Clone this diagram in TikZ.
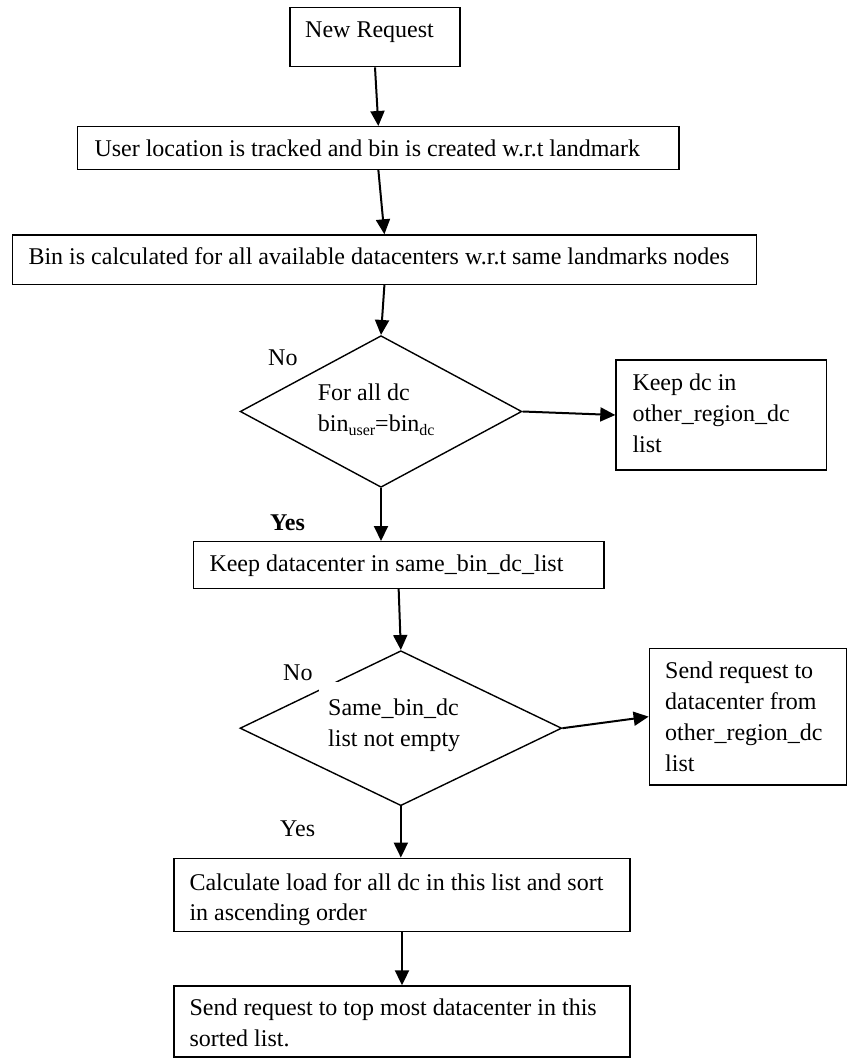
\documentclass[tikz,border=0pt]{standalone}
\usepackage{fontspec}
\setmainfont{Liberation Serif}
\usetikzlibrary{arrows.meta,shapes.geometric}
\newcommand\mysub[1]{\raisebox{-4pt}{\fontsize{16}{16}\selectfont #1}}
\begin{document}
\begin{tikzpicture}[x=1pt,y=-1pt,
  box/.style={draw, line width=1.4pt, inner sep=0pt, rectangle},
  dia/.style={draw, diamond, line width=1.4pt, inner sep=0pt},
  txt/.style={inner sep=0pt, anchor=base west, align=flush left, font={\fontsize{24}{31}\selectfont}},
  arr/.style={line width=2pt, -{Triangle[length=15pt,width=14pt]}},
]
\useasboundingbox (0,0) rectangle (848,1059);

\node[box, minimum width=170pt, minimum height=59.4pt] (nr) at (375,37) {};
\node[txt] (nrt) at (305,38) {New Request};

\node[box, minimum width=601.3pt, minimum height=42.6pt] (b2) at (378.35,148) {};
\node[txt] (b2t) at (94.3,156.7) {User location is tracked and bin is created w.r.t landmark};

\node[box, minimum width=744.2pt, minimum height=49.3pt] (b3) at (384.4,259.65) {};
\node[txt] (b3t) at (28.3,265) {Bin is calculated for all available datacenters w.r.t same landmarks nodes};

\node[dia, minimum width=281.7pt, minimum height=151.7pt] (d1) at (381,411.5) {};
\node[txt, text width=180pt] (d1t) at (317.7,400) {For all dc\\bin\mysub{user}=bin\mysub{dc}};
\node[txt] (no1) at (268,365) {No};

\node[box, minimum width=210.7pt, minimum height=110pt] (kdc) at (721.35,415) {};
\node[txt, text width=200pt] (kdct) at (632.3,390) {Keep dc in\\other\_region\_dc\\list};

\node[txt, font={\fontsize{24}{31}\selectfont\bfseries}] (yes1) at (270,530) {Yes};

\node[box, minimum width=410.7pt, minimum height=46.6pt] (kdl) at (398.65,565) {};
\node[txt] (kdlt) at (209.3,571.7) {Keep datacenter in same\_bin\_dc\_list};

\node[dia, minimum width=321.7pt, minimum height=155pt] (d2) at (400.85,728.2) {};
\fill[white] (318.5,681.8) rectangle (345,695);
\node[txt, text width=200pt] (d2t) at (328,715) {Same\_bin\_dc\\list not empty};
\node[txt] (no2) at (283,680) {No};
\node[txt] (yes2) at (280,836.7) {Yes};

\node[box, minimum width=197.4pt, minimum height=136.7pt] (sr) at (748,716.65) {};
\node[txt, text width=180pt] (srt) at (665,678.3) {Send request to\\datacenter from\\other\_region\_dc\\list};

\node[box, minimum width=456pt, minimum height=73.4pt] (calc) at (402,895) {};
\node[txt, text width=440pt, font={\fontsize{24}{30}\selectfont}] (calct) at (189.3,890) {Calculate load for all dc in this list and sort\\in ascending order};

\node[box, minimum width=456pt, minimum height=71pt] (last) at (402,1021.5) {};
\node[txt, text width=440pt, font={\fontsize{24}{31.7}\selectfont}] (lastt) at (189.3,1015) {Send request to top most datacenter in this\\sorted list.};

\draw[arr] (nr.south) -- (b2.north);
\draw[arr] (b2.south) -- (b3.north);
\draw[arr] (b3.south) -- (d1.north);
\draw[arr] (d1.east) -- (kdc.west);
\draw[arr] (d1.south) -- (d1.south |- kdl.north);
\draw[arr] (kdl.south) -- (d2.north);
\draw[arr] (d2.east) -- (sr.west);
\draw[arr] (d2.south) -- (d2.south |- calc.north);
\draw[arr] (calc.south) -- (last.north);
\end{tikzpicture}
\end{document}
